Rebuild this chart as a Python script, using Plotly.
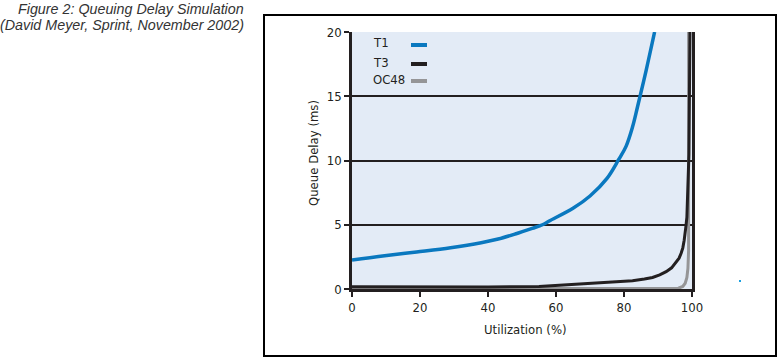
import plotly.graph_objects as go

# ---- data ----
t1_util = [0, 9, 19, 29, 38, 43, 48, 53, 56, 58, 65, 70, 75, 78.4, 80.6, 82.5, 84.0, 86.5, 89]
t1_delay = [2.25, 2.57, 2.88, 3.21, 3.6, 3.89, 4.28, 4.72, 5.0, 5.29, 6.28, 7.24, 8.61, 10.06, 11.1, 12.6, 14.2, 17.0, 20.0]

t3_util = [0, 20, 40, 55, 63, 72, 77.6, 82.5, 86, 88.4, 90.5, 92.4, 94, 95.3, 96.2, 96.8, 97.3, 97.7, 98.0, 98.2, 98.5, 98.8, 99.1, 99.4]
t3_delay = [0.18, 0.16, 0.16, 0.2, 0.33, 0.44, 0.52, 0.65, 0.78, 0.9, 1.1, 1.35, 1.65, 2.05, 2.4, 2.78, 3.2, 3.8, 4.3, 4.85, 5.6, 7.5, 10.5, 20]

oc48_util = [0, 50, 96, 97.3, 98.0, 98.5, 98.8, 99.0, 99.0]
oc48_delay = [0.03, 0.03, 0.06, 0.2, 0.45, 0.9, 1.6, 3.0, 20]

x_ticks = [0, 20, 40, 60, 80, 100]
y_ticks = [0, 5, 10, 15, 20]
series_names = ["T1", "T3", "OC48"]
series_colors = ["#0a78bf", "#231f20", "#959597"]

TXT = "#231f20"
FONT = "DejaVu Sans Condensed, Liberation Sans Narrow, DejaVu Sans, sans-serif"

W, H = 779, 360
L, R, T, B = 352, 87, 32, 71
PW, PH = W - L - R, H - T - B


def px(x):
    return (x - L) / PW


def py(y):
    return (H - B - y) / PH


fig = go.Figure()
fig.add_trace(go.Scatter(x=oc48_util, y=oc48_delay, mode="lines", name=series_names[2],
                         line=dict(color=series_colors[2], width=3), showlegend=False))
fig.add_trace(go.Scatter(x=t3_util, y=t3_delay, mode="lines", name=series_names[1],
                         line=dict(color=series_colors[1], width=3), showlegend=False))
fig.add_trace(go.Scatter(x=t1_util, y=t1_delay, mode="lines", name=series_names[0],
                         line=dict(color=series_colors[0], width=3.5, shape="spline", smoothing=1.0),
                         showlegend=False))

shapes = []
annotations = []

# outer frame
shapes.append(dict(type="rect", xref="paper", yref="paper",
                   x0=px(264), x1=px(776), y0=py(15), y1=py(356),
                   line=dict(color="#000000", width=2), fillcolor="rgba(0,0,0,0)", layer="below"))

# legend (text then swatch, as in the reference)
leg_y = [43, 62, 79]
for name, color, yy in zip(series_names, series_colors, leg_y):
    annotations.append(dict(text=name, xref="paper", yref="paper", x=px(371), y=py(yy),
                            xanchor="left", yanchor="middle", showarrow=False,
                            font=dict(family=FONT, size=13, color=TXT)))
    shapes.append(dict(type="rect", xref="paper", yref="paper",
                       x0=px(411), x1=px(427), y0=py(yy + 4), y1=py(yy),
                       line=dict(width=0), fillcolor=color))

# figure caption (two lines)
cap_font = dict(family="Liberation Sans, Arial, sans-serif", size=14.3, color="#333333")
annotations.append(dict(text="<i>Figure 2: Queuing Delay Simulation</i>",
                        xref="paper", yref="paper", x=px(246), y=py(9), xanchor="right", yanchor="middle",
                        showarrow=False, font=cap_font))
annotations.append(dict(text="<i>(David Meyer, Sprint, November 2002)</i>",
                        xref="paper", yref="paper", x=px(246), y=py(25), xanchor="right", yanchor="middle",
                        showarrow=False, font=cap_font))

# axis titles
annotations.append(dict(text="Queue Delay (ms)", xref="paper", yref="paper", x=px(313), y=py(153),
                        textangle=-90, showarrow=False, xanchor="center", yanchor="middle",
                        font=dict(family=FONT, size=13, color=TXT)))
annotations.append(dict(text="Utilization (%)", xref="paper", yref="paper", x=px(525), y=py(330),
                        showarrow=False, xanchor="center", yanchor="middle",
                        font=dict(family=FONT, size=13, color=TXT)))

# small stray dot seen in the reference
shapes.append(dict(type="rect", xref="paper", yref="paper",
                   x0=px(739), x1=px(741), y0=py(282), y1=py(280),
                   line=dict(width=0), fillcolor="#1aa0e0"))

fig.update_layout(
    width=W, height=H,
    margin=dict(l=L, r=R, t=T, b=B, pad=0),
    paper_bgcolor="#ffffff",
    plot_bgcolor="#e3ebf6",
    showlegend=False,
    shapes=shapes,
    annotations=annotations,
    font=dict(family=FONT, size=13, color=TXT),
)
fig.update_xaxes(range=[0, 100], tickvals=x_ticks, ticktext=[str(v) for v in x_ticks],
                 showgrid=False, zeroline=False,
                 showline=True, linecolor="#231f20", linewidth=2.5, mirror=False,
                 ticks="outside", ticklen=5, tickwidth=2, tickcolor="#231f20",
                 tickfont=dict(family=FONT, size=13, color=TXT))
fig.update_yaxes(range=[0, 20], tickvals=y_ticks, ticktext=[str(v) for v in y_ticks],
                 showgrid=True, gridcolor="#231f20", gridwidth=2, zeroline=False,
                 showline=True, linecolor="#231f20", linewidth=2.5, mirror=True,
                 ticks="outside", ticklen=5, tickwidth=2, tickcolor="#231f20",
                 tickfont=dict(family=FONT, size=13, color=TXT))

fig.write_html("out.html",
               config={"displayModeBar": False},
               post_script="document.body.style.margin='0';document.body.style.overflow='hidden';")
